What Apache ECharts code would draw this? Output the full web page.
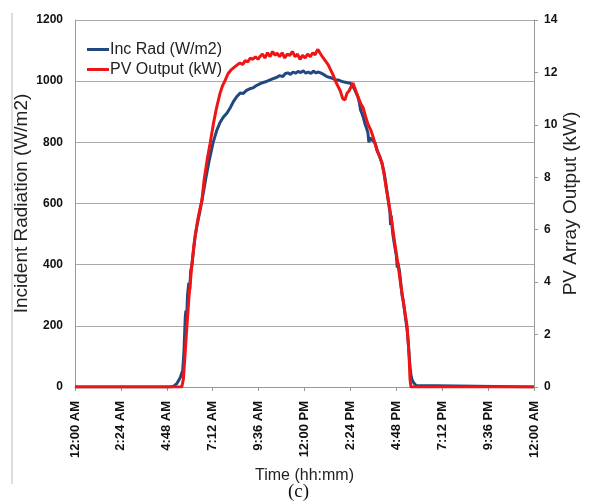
<!DOCTYPE html>
<html>
<head>
<meta charset="utf-8">
<script src="https://cdn.jsdelivr.net/npm/echarts@6/dist/echarts.min.js"></script>
<style>
  html, body { margin: 0; padding: 0; background: #fff; }
  #chart { width: 591px; height: 503px; }
</style>
</head>
<body>
<div id="chart"></div>
<script>
// time in minutes after midnight
var timeTicks = ["12:00 AM", "2:24 AM", "4:48 AM", "7:12 AM", "9:36 AM", "12:00 PM",
                 "2:24 PM", "4:48 PM", "7:12 PM", "9:36 PM", "12:00 AM"];

// Inc Rad (W/m2)
var radTime = [0, 300, 310, 320, 330, 338, 342, 346, 348, 350, 353, 357, 360, 363, 367, 372, 378, 385, 392,
  400, 410, 420, 433, 445, 455, 465, 477, 488, 498, 508, 518, 528, 538, 548, 558, 568, 578, 588, 598,
  612, 622, 632, 642, 652, 660, 668, 676, 684, 692, 700, 708, 716, 724, 732, 740, 748, 756, 764, 772,
  780, 790, 800, 810, 818, 825, 835, 845, 855, 863, 870, 876, 882, 888, 892, 896, 900, 904, 910, 915,
  919, 922, 925, 930, 935, 941, 948, 956, 963, 970, 976, 982, 988, 990, 992, 997, 1003, 1008, 1011,
  1013, 1018, 1022, 1026, 1030, 1035, 1042, 1046, 1050, 1054, 1058, 1063, 1070, 1076, 1440];
var radValue = [0, 0, 3, 12, 30, 55, 120, 230, 250, 215, 300, 340, 320, 380, 400, 450, 500, 540, 575,
  620, 680, 735, 798, 840, 865, 882, 896, 915, 935, 950, 961, 960, 970, 975, 978, 985, 990, 995, 998,
  1004, 1008, 1012, 1018, 1015, 1025, 1027, 1022, 1030, 1026, 1032, 1028, 1034, 1026, 1030, 1025, 1033, 1027, 1030, 1026,
  1022, 1015, 1012, 1008, 1005, 1004, 1000, 997, 995, 994, 985, 975, 962, 948, 930, 905, 895, 883, 860, 845,
  831, 800, 815, 812, 805, 798, 775, 752, 732, 700, 660, 615, 572, 530, 560, 500, 460, 430, 390,
  405, 380, 340, 300, 280, 240, 186, 140, 80, 39, 22, 13, 5, 0, 0];

// PV Output (kW)
var pvTime = [0, 335, 340, 345, 351, 358, 367, 375, 384, 392, 398, 405, 415, 424, 435, 445, 455, 463, 471,
  480, 490, 500, 510, 518, 526, 534, 542, 550, 558, 566, 574, 580, 588, 596, 604, 612, 620, 628, 634,
  642, 650, 658, 666, 674, 682, 690, 698, 706, 714, 722, 730, 738, 746, 753, 758, 762, 768, 776, 785,
  794, 802, 810, 816, 824, 832, 840, 847, 853, 860, 866, 872, 878, 884, 890, 897, 904, 912, 920, 928,
  935, 941, 948, 956, 963, 970, 976, 982, 988, 995, 1003, 1013, 1022, 1032, 1042, 1048, 1051, 1054, 1440];
var pvValue = [0, 0, 0.3, 1.2, 2.3, 3.5, 4.7, 5.6, 6.3, 6.8, 7.1, 7.9, 8.7, 9.3, 10.1, 10.7, 11.2, 11.5, 11.7,
  11.95, 12.1, 12.2, 12.3, 12.36, 12.3, 12.45, 12.4, 12.55, 12.5, 12.6, 12.5, 12.6, 12.7, 12.55, 12.75, 12.6, 12.8, 12.65, 12.74,
  12.6, 12.75, 12.55, 12.7, 12.65, 12.8, 12.6, 12.7, 12.5, 12.65, 12.55, 12.7, 12.6, 12.75, 12.67, 12.8, 12.88, 12.75, 12.6, 12.45,
  12.3, 12.1, 11.9, 11.7, 11.5, 11.3, 11.0, 10.95, 11.2, 11.3, 11.45, 11.6, 11.4, 11.2, 11.0, 10.8, 10.65, 10.3, 10.0, 9.8,
  9.55, 9.3, 9.0, 8.8, 8.55, 8.1, 7.6, 7.2, 6.75, 6.2, 5.5, 4.7, 3.9, 3.1, 2.3, 1.2, 0.3, 0, 0];

function pairs(xs, ys) {
  return xs.map(function (x, i) { return [x, ys[i]]; });
}

var chart = echarts.init(document.getElementById("chart"));
var option = {
  animation: false,
  textStyle: { fontFamily: "Liberation Sans, Arial, sans-serif" },
  grid: { left: 75, right: 57, top: 20, bottom: 116, outerBoundsMode: "none", containLabel: false },
  legend: {
    orient: "vertical",
    left: 82,
    top: 36,
    icon: "rect",
    itemWidth: 22,
    itemHeight: 3,
    itemGap: 3,
    textStyle: { fontSize: 16, color: "#222", padding: [0, 0, 0, -4], lineHeight: 17 },
    data: ["Inc Rad (W/m2)", "PV Output (kW)"]
  },
  xAxis: {
    type: "value",
    min: 0,
    max: 1440,
    interval: 144,
    name: "Time (hh:mm)",
    nameLocation: "middle",
    nameGap: 81,
    nameMoveOverlap: false,
    nameTextStyle: { fontSize: 16, color: "#222" },
    axisLine: { lineStyle: { color: "#999" } },
    axisTick: { show: true, length: 4, lineStyle: { color: "#999" } },
    splitLine: { show: false },
    axisLabel: {
      rotate: 90,
      margin: 14,
      fontSize: 13,
      fontWeight: "bold",
      color: "#111",
      formatter: function (v) { return timeTicks[Math.round(v / 144)]; }
    }
  },
  yAxis: [
    {
      type: "value",
      min: 0,
      max: 1200,
      interval: 200,
      name: "Incident Radiation (W/m2)",
      nameLocation: "middle",
      nameGap: 44,
      nameMoveOverlap: false,
      nameTextStyle: { fontSize: 19, color: "#222" },
      axisLine: { show: true, lineStyle: { color: "#999" } },
      axisTick: { show: false },
      axisLabel: {
        fontSize: 12, fontWeight: "bold", color: "#111", margin: 12,
        formatter: function (v) { return String(v); }
      },
      splitLine: { lineStyle: { color: "#aaa", width: 1.2 } }
    },
    {
      type: "value",
      min: 0,
      max: 14,
      interval: 2,
      name: "PV Array Output (kW)",
      nameLocation: "middle",
      nameRotate: 90,
      nameGap: 27,
      nameMoveOverlap: false,
      nameTextStyle: { fontSize: 19, color: "#222" },
      axisLine: { show: true, lineStyle: { color: "#999" } },
      axisTick: { show: true, length: 4, lineStyle: { color: "#999" } },
      axisLabel: { fontSize: 12, fontWeight: "bold", color: "#111", margin: 10 },
      splitLine: { show: false }
    }
  ],
  series: [
    {
      name: "Inc Rad (W/m2)",
      type: "line",
      yAxisIndex: 0,
      symbol: "none",
      lineStyle: { color: "#21497f", width: 3 },
      itemStyle: { color: "#21497f" },
      data: pairs(radTime, radValue)
    },
    {
      name: "PV Output (kW)",
      type: "line",
      yAxisIndex: 1,
      symbol: "none",
      lineStyle: { color: "#f01414", width: 3 },
      itemStyle: { color: "#f01414" },
      data: pairs(pvTime, pvValue)
    }
  ],
  graphic: [
    { type: "line", shape: { x1: 12, y1: 13, x2: 12, y2: 484 }, style: { stroke: "#bbb", lineWidth: 1 } },
    { type: "rect", shape: { x: 0, y: 485, width: 591, height: 18 }, style: { fill: "#fff" }, z: 100 },
    {
      type: "text", left: 288, top: 483, z: 101,
      style: { text: "(c)", font: "19px 'Liberation Serif', serif", fill: "#111" }
    }
  ]
};
chart.setOption(option);
</script>
</body>
</html>
